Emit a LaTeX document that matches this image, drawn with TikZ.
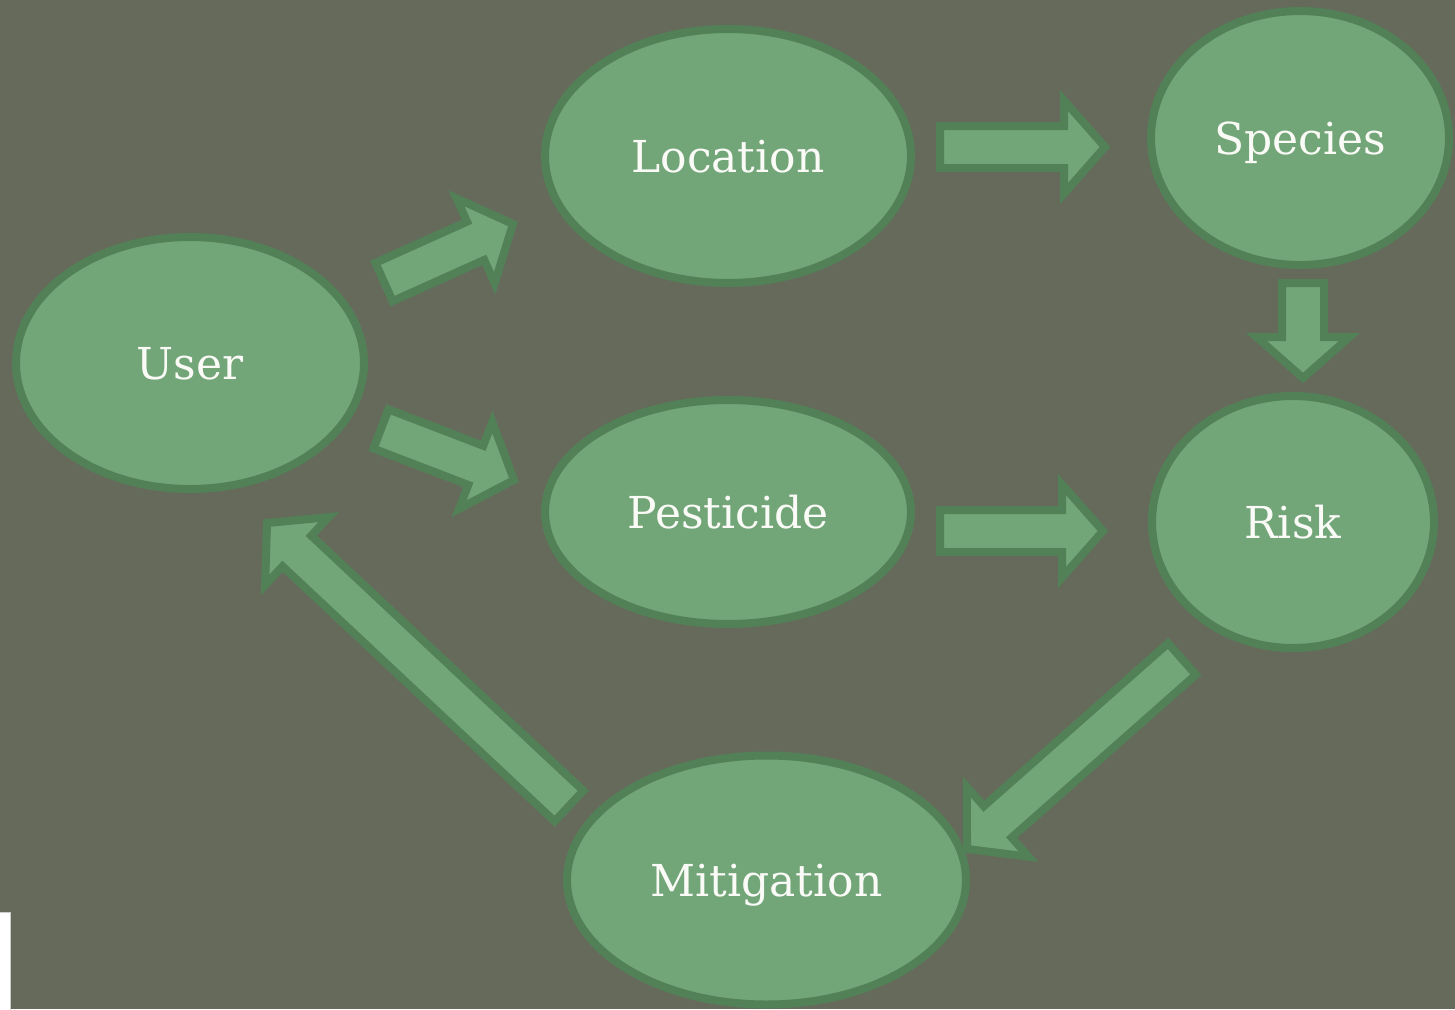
\documentclass[tikz,border=0pt]{standalone}
\usepackage{fontspec}
\setmainfont{DejaVu Serif}
\usetikzlibrary{shapes.geometric,calc}
\definecolor{bgc}{HTML}{666A5B}
\definecolor{fillc}{HTML}{72A578}
\definecolor{edgec}{HTML}{528057}
\definecolor{txtc}{HTML}{FAFAF7}
\newcommand{\sw}{21pt}
\newcommand{\hw}{46.5pt}
\newcommand{\hl}{41pt}
\newcommand{\blockarrow}[2]{%
  \coordinate (hb) at ($(#2)!\hl!(#1)$);
  \filldraw[barrowstyle]
    ($(#1)!\sw!90:(#2)$) -- ($(hb)!\sw!-90:(#1)$) -- ($(hb)!\hw!-90:(#1)$) --
    (#2) -- ($(hb)!\hw!90:(#1)$) -- ($(hb)!\sw!90:(#1)$) --
    ($(#1)!\sw!-90:(#2)$) -- cycle;
}
\tikzset{
  bubble/.style={ellipse, draw=edgec, fill=fillc, line width=8pt, inner sep=0pt,
    text=txtc, font=\fontsize{44}{52}\selectfont, text height=32pt, text depth=0pt},
  barrowstyle/.style={draw=edgec, fill=fillc, line width=8pt, line join=miter, miter limit=10},
}
\begin{document}
\begin{tikzpicture}[x=1pt,y=-1pt]
\useasboundingbox (0,0) rectangle (1455,1009);
\fill[bgc] (0,0) rectangle (1455,1009);
% small white panel at bottom-left edge
\filldraw[fill=white, draw=gray!40, line width=1pt] (-2,912) rectangle (10,1012);

\node[bubble, minimum width=348pt, minimum height=252pt] (user) at (190,363) {User};
\node[bubble, minimum width=366pt, minimum height=254pt] (loc) at (728,156) {Location};
\node[bubble, minimum width=298pt, minimum height=254pt] (spec) at (1300,138) {Species};
\node[bubble, minimum width=366pt, minimum height=224pt] (pest) at (728,512) {Pesticide};
\node[bubble, minimum width=282pt, minimum height=252pt] (risk) at (1293,522) {Risk};
\node[bubble, minimum width=399pt, minimum height=249pt] (miti) at (766.5,880) {Mitigation};

\coordinate (a1s) at (384,282);  \coordinate (a1e) at (513,224);
\coordinate (a2s) at (381,429);  \coordinate (a2e) at (514,480);
\coordinate (a3s) at (940,147);  \coordinate (a3e) at (1105,147);
\coordinate (a4s) at (1303,283); \coordinate (a4e) at (1303,378);
\coordinate (a5s) at (940,531);  \coordinate (a5e) at (1103,531);
\coordinate (a6s) at (1182,659); \coordinate (a6e) at (967,849);
\coordinate (a7s) at (569,806);  \coordinate (a7e) at (267,523);

\blockarrow{a1s}{a1e}
\blockarrow{a2s}{a2e}
\blockarrow{a3s}{a3e}
\blockarrow{a4s}{a4e}
\blockarrow{a5s}{a5e}
\blockarrow{a6s}{a6e}
\blockarrow{a7s}{a7e}
\end{tikzpicture}
\end{document}
